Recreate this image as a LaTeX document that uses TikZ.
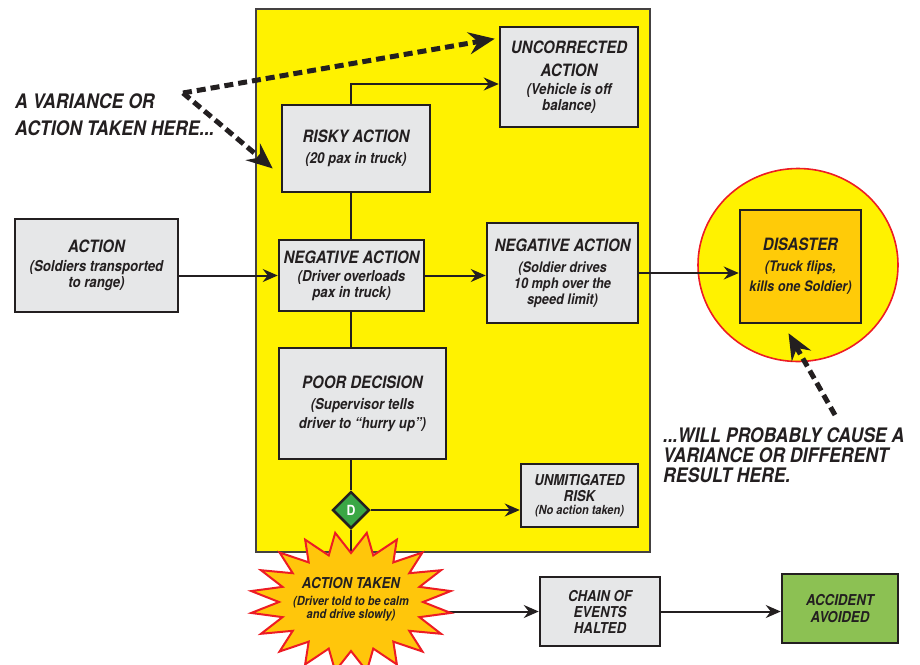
\documentclass[tikz,border=0pt]{standalone}
\usepackage{fontspec}
\setmainfont{TeX Gyre Heros}[FakeStretch=0.88]
\usetikzlibrary{arrows.meta,shapes.geometric}
\definecolor{ink}{HTML}{231F20}
\definecolor{ybg}{HTML}{FFF200}
\definecolor{boxgray}{HTML}{E6E7E8}
\definecolor{disorange}{HTML}{FFCB08}
\definecolor{burstfill}{HTML}{FFC60B}
\definecolor{accgreen}{HTML}{8CC153}
\definecolor{dgreen}{HTML}{3AA745}
\definecolor{redline}{HTML}{ED1C24}
\newcommand\ttlf{\fontsize{17}{16}\selectfont\bfseries\itshape}
\newcommand\subf{\fontsize{15}{16}\selectfont\bfseries\itshape}
\newcommand\subsf{\fontsize{14.5}{16}\selectfont\bfseries\itshape}
\newcommand\smtf{\fontsize{15}{16}\selectfont\bfseries\itshape}
\newcommand\smsf{\fontsize{12.5}{13}\selectfont\bfseries\itshape}
\newcommand\notef{\fontsize{20}{20}\selectfont\bfseries\itshape}
\tikzset{
  box/.style={draw=ink, line width=2.5pt, fill=boxgray, align=center, text=ink, font=\subf, inner sep=1pt},
  conn/.style={draw=ink, line width=2pt},
  arr/.style={conn, -{Stealth[length=15pt,width=13pt,inset=5pt]}},
  dasharr/.style={draw=ink, line width=5pt, dash pattern=on 9pt off 5pt, -{Stealth[length=26pt,width=22pt,inset=9pt]}},
  note/.style={align=left, text=ink, inner sep=0pt},
}
\begin{document}
\begin{tikzpicture}[x=1pt,y=-1pt]
\useasboundingbox (0,0) rectangle (920,664);
% panel
\node[draw=ink!85, line width=2pt, fill=ybg, minimum width=394pt, minimum height=543pt, inner sep=0pt] (panel) at (453,280.5) {};
% circle
\node[draw=redline, line width=1.6pt, fill=ybg, ellipse, minimum width=200pt, minimum height=193pt, inner sep=0pt] (circ) at (798,265) {};
% boxes
\node[box, minimum width=138pt, minimum height=100pt] (uncorr) at (569,77)
  {{\ttlf UNCORRECTED}\\[7pt]{\ttlf ACTION}\\[2pt](Vehicle is off\\balance)};
\node[box, minimum width=148pt, minimum height=87pt] (risky) at (356,148.5)
  {{\ttlf RISKY ACTION}\\[5pt](20 pax in truck)};
\node[box, minimum width=163pt, minimum height=93pt] (action) at (96.5,265.5)
  {{\ttlf ACTION}\\[3pt](Soldiers transported\\to range)};
\node[box, minimum width=145pt, minimum height=71pt] (neg1) at (351.5,275.5)
  {{\ttlf NEGATIVE ACTION}\\[2pt](Driver overloads\\pax in truck)};
\node[box, font=\subsf, minimum width=151pt, minimum height=100pt] (neg2) at (562.5,273)
  {{\ttlf NEGATIVE ACTION}\\[5pt](Soldier drives\\10 mph over the\\speed limit)};
\node[box, minimum width=167pt, minimum height=111pt] (poor) at (362.5,403.5)
  {{\ttlf POOR DECISION}\\[5pt](Supervisor tells\\[3pt]driver to “hurry up”)};
\node[box, font=\subsf, fill=disorange, minimum width=121pt, minimum height=113pt] (disaster) at (800.5,266.5)
  {{\ttlf DISASTER}\\[5pt](Truck flips,\\[4pt]kills one Soldier)};
\node[box, font=\smtf, minimum width=117pt, minimum height=63pt] (unmit) at (579.5,495.5)
  {UNMITIGATED\\RISK\\[-3pt]{\smsf (No action taken)}};
\node[draw=ink, line width=2.5pt, fill=dgreen, diamond, aspect=1, minimum width=37pt, minimum height=37pt, inner sep=0pt, text=white, font=\fontsize{14}{14}\selectfont\bfseries] (d) at (351,510) {D};
\node[box, font=\smtf, minimum width=120pt, minimum height=69pt] (chain) at (600,611.5)
  {CHAIN OF\\EVENTS\\HALTED};
\node[box, fill=accgreen, font=\smtf, minimum width=116pt, minimum height=69pt] (accident) at (840,608.5)
  {ACCIDENT\\[1.5pt]AVOIDED};
\coordinate (burst) at (351,602);
% connectors
\draw[conn] (risky.south -| d) -- (neg1.north -| d);
\draw[conn] (neg1.south -| d) -- (poor.north -| d);
\draw[conn] (poor.south -| d) -- (d.north);
\draw[arr] (risky.north -| d) |- ([yshift=-7pt]uncorr.west);
\draw[arr] (action.east |- neg1.west) -- (neg1.west);
\draw[arr] (neg1.east) -- (neg1.east -| neg2.west);
\draw[arr] (neg2.east) -- (neg2.east -| disaster.west);
\draw[arr] (d.east) -- (d.east -| unmit.west);
\draw[conn] (d.south) -- (burst);
\draw[arr] (burst |- chain.west) -- (chain.west);
\draw[arr] (chain.east) -- (chain.east -| accident.west);
% starburst
\draw[draw=redline, line width=2pt, fill=burstfill, line join=miter]
  plot[domain=0:39, samples=40, variable=\k]
  ({351+ifthenelse(mod(\k,2)==1,101,72)*cos(9*\k)}, {602+ifthenelse(mod(\k,2)==1,70,49)*sin(9*\k)}) -- cycle;
\node[align=center, text=ink, font=\smsf, inner sep=0pt] (bursttext) at (351,599)
  {{\smtf ACTION TAKEN}\\[4pt](Driver told to be calm\\and drive slowly)};
% annotations
\node[note, font=\fontsize{20}{27}\selectfont\bfseries\itshape, anchor=north west] (varnote) at (15,93)
  {A VARIANCE OR\\ACTION TAKEN HERE...};
\coordinate (varpt) at (183,93);
\node[note, font=\notef, anchor=north west] (resnote) at (663,427)
  {...WILL PROBABLY CAUSE A\\VARIANCE OR DIFFERENT\\RESULT HERE.};
\coordinate (respt) at (835,415);
\draw[dasharr] (varpt) -- ([xshift=-4pt,yshift=-13pt]uncorr.north west);
\draw[dasharr] (varpt) -- ([xshift=-8pt,yshift=-20pt]risky.west);
\draw[dasharr] (respt) -- ([xshift=-12pt,yshift=-9pt]disaster.south);
\end{tikzpicture}
\end{document}
